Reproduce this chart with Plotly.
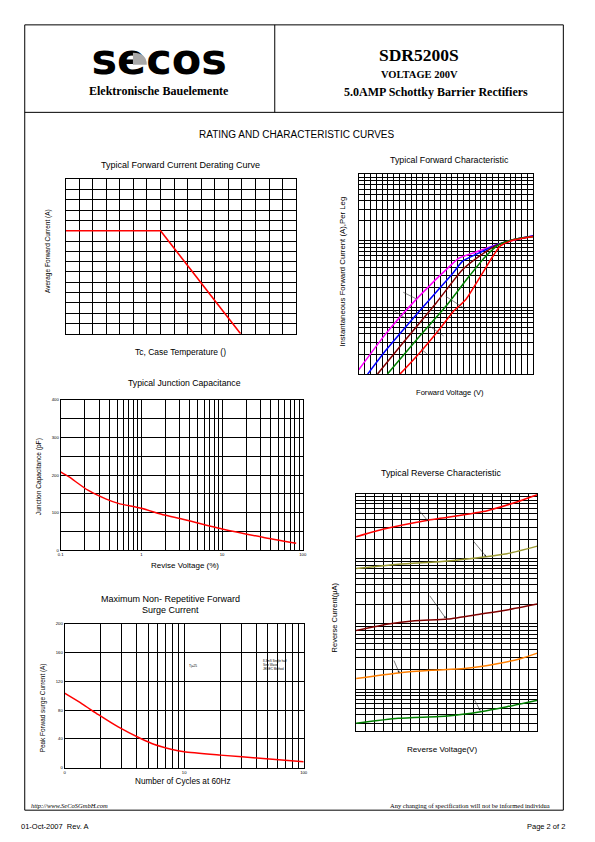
import plotly.graph_objects as go

W, H = 595, 842
def X(px): return px / W
def Y(py): return 1 - py / H

# ---------------- data ----------------
# Typical Forward Current Derating Curve
derate_temp = [0, 70, 129]
derate_current = [5.0, 5.0, 0.0]

# Typical Forward Characteristic (V, A)
fwd_v_magenta = [0.0, 0.24, 0.52, 0.81, 0.86, 0.98, 1.15, 1.32, 1.50]
fwd_i_magenta = [0.116, 0.419, 1.48, 4.64, 5.51, 6.54, 8.42, 10.1, 11.9]
fwd_v_blue = [0.076, 0.24, 0.52, 0.81, 0.89, 1.03, 1.17, 1.32, 1.50]
fwd_i_blue = [0.1, 0.236, 0.881, 3.29, 4.92, 6.54, 8.51, 10.35, 11.9]
fwd_v_brown = [0.161, 0.382, 0.665, 0.891, 1.033, 1.174, 1.316, 1.50]
fwd_i_brown = [0.1, 0.297, 1.17, 3.69, 5.84, 8.42, 10.35, 11.6]
fwd_v_green = [0.246, 0.524, 0.75, 0.948, 1.089, 1.203, 1.344, 1.50]
fwd_i_green = [0.1, 0.373, 1.05, 2.94, 5.84, 8.71, 10.6, 11.6]
fwd_v_red = [0.354, 0.538, 0.693, 0.807, 0.920, 1.019, 1.089, 1.160, 1.217, 1.316, 1.50]
fwd_i_red = [0.1, 0.223, 0.47, 0.851, 1.32, 2.47, 3.91, 6.18, 8.41, 10.1, 11.6]

# Typical Junction Capacitance
cap_v = [0.1, 0.126, 0.218, 0.362, 0.518, 1.0, 1.93, 3.1, 10, 32, 83]
cap_pf = [209, 196, 160, 137, 125, 112, 94, 84, 57, 35, 19]
cap_ytick_text = ["0", "", "100", "", "200", "", "300", "", "400"]

# Maximum Non-Repetitive Forward Surge Current
surge_cycles = [1, 1.40, 1.92, 2.81, 4.33, 5.65, 7.77, 10, 20.1, 45.7, 100]
surge_amps = [103.4, 88.7, 73.6, 56.6, 40.5, 32.2, 25.7, 22.1, 17.5, 12.9, 8.3]
surge_xtick_text = ["0", "10", "100"]

# Typical Reverse Characteristic (V, uA)
rev_v_red = [0, 28.4, 79.3, 101.1, 144.7, 173.8, 200]
rev_i_red = [218, 282, 392, 436, 550, 721, 966]
rev_v_olive = [0, 46.5, 101.1, 141.1, 166.5, 200]
rev_i_olive = [70.8, 82.4, 92.7, 106.7, 119.9, 157]
rev_v_brown = [0, 35.6, 64.7, 101.1, 137.5, 166.5, 200]
rev_i_brown = [7.91, 10.0, 11.2, 11.9, 14.2, 16.4, 20.2]
rev_v_orange = [0, 46.5, 82.9, 119.3, 155.6, 181.1, 200]
rev_i_orange = [1.45, 1.77, 1.94, 2.06, 2.45, 2.92, 3.56]
rev_v_green = [0, 46.5, 101.1, 137.5, 166.5, 200]
rev_i_green = [0.297, 0.355, 0.385, 0.448, 0.535, 0.675]

logo_text = ["secos"]

# ---------------- figure ----------------
SANS = "Liberation Sans, Arial, sans-serif"
SERIF = "Liberation Serif, Times New Roman, serif"
RED = "#FF0000"

fig = go.Figure()

def curve(x, y, color, xa, ya, width=1.5):
    fig.add_trace(go.Scatter(x=x, y=y, mode="lines", xaxis=xa, yaxis=ya,
                             line=dict(color=color, width=width, shape="spline", smoothing=0.6),
                             hoverinfo="skip", showlegend=False))

fig.add_trace(go.Scatter(x=derate_temp, y=derate_current, mode="lines", xaxis="x", yaxis="y",
                         line=dict(color=RED, width=1.6), hoverinfo="skip", showlegend=False))

curve(fwd_v_magenta, fwd_i_magenta, "#FF00FF", "x2", "y2")
curve(fwd_v_blue, fwd_i_blue, "#0000FF", "x2", "y2")
curve(fwd_v_brown, fwd_i_brown, "#800000", "x2", "y2")
curve(fwd_v_green, fwd_i_green, "#008000", "x2", "y2")
curve(fwd_v_red, fwd_i_red, RED, "x2", "y2")

curve(cap_v, cap_pf, RED, "x3", "y3")
curve(surge_cycles, surge_amps, RED, "x4", "y4")

curve(rev_v_red, rev_i_red, RED, "x5", "y5")
curve(rev_v_olive, rev_i_olive, "#999933", "x5", "y5")
curve(rev_v_brown, rev_i_brown, "#800000", "x5", "y5")
curve(rev_v_orange, rev_i_orange, "#FF7F00", "x5", "y5")
curve(rev_v_green, rev_i_green, "#008000", "x5", "y5")

# logo on a hidden full-page (pixel) axis so the grey accent can sit on top of it
fig.add_trace(go.Scatter(x=[158], y=[61], mode="text", text=logo_text, xaxis="x6", yaxis="y6",
                         textposition="middle center", cliponaxis=False,
                         textfont=dict(family="DejaVu Sans", size=43, color="black", weight="bold"),
                         hoverinfo="skip", showlegend=False))

def logticks(lo, hi):
    out = []
    for k in range(lo, hi):
        for m in range(1, 10):
            out.append(m * 10 ** k)
    out.append(10 ** hi)
    return out

base = dict(showline=True, mirror=True, linecolor="black", linewidth=1,
            showgrid=True, gridcolor="black", gridwidth=1, zeroline=False,
            ticks="", fixedrange=True)

cap_xticks = logticks(-1, 2)
cap_xtext = [("0.1" if v == 0.1 else "1" if v == 1 else "10" if v == 10 else "100" if v == 100 else "") for v in cap_xticks]
surge_xticks = logticks(0, 2)
surge_xtext = [{1: surge_xtick_text[0], 10: surge_xtick_text[1], 100: surge_xtick_text[2]}.get(v, "") for v in surge_xticks]
tickfont = dict(family=SANS, size=4.2, color="black")

fig.update_layout(
    width=W, height=H, margin=dict(l=0, r=0, t=0, b=0),
    paper_bgcolor="white", plot_bgcolor="rgba(0,0,0,0)", showlegend=False,
    xaxis=dict(base, domain=[X(63.3), X(296.7)], range=[0, 170], dtick=10, tick0=0,
               showticklabels=False, anchor="y"),
    yaxis=dict(base, domain=[Y(332.7), Y(177.3)], range=[0, 7.5], dtick=0.5, tick0=0,
               showticklabels=False, anchor="x"),
    xaxis2=dict(base, domain=[X(360), X(536.7)], range=[0, 1.5], dtick=0.05, tick0=0,
                showticklabels=False, anchor="y2"),
    yaxis2=dict(base, domain=[Y(373.3), Y(172.3)], type="log", range=[-1, 2],
                tickvals=logticks(-1, 2), showticklabels=False, anchor="x2"),
    xaxis3=dict(base, domain=[X(58.3), X(303.3)], type="log", range=[-1, 2],
                tickvals=cap_xticks, ticktext=cap_xtext, tickfont=tickfont, anchor="y3"),
    yaxis3=dict(base, domain=[Y(550.7), Y(399.3)], range=[0, 400],
                tickvals=[0, 50, 100, 150, 200, 250, 300, 350, 400], ticktext=cap_ytick_text,
                tickfont=tickfont, anchor="x3"),
    xaxis4=dict(base, domain=[X(62.3), X(304.3)], type="log", range=[0, 2],
                tickvals=surge_xticks, ticktext=surge_xtext, tickfont=tickfont, anchor="y4"),
    yaxis4=dict(base, domain=[Y(769.3), Y(624.3)], range=[0, 200], dtick=40, tick0=0,
                tickfont=tickfont, anchor="x4"),
    xaxis5=dict(base, domain=[X(357.3), X(540.7)], range=[0, 200], dtick=10, tick0=0,
                showticklabels=False, anchor="y5"),
    yaxis5=dict(base, domain=[Y(732.3), Y(493.7)], type="log", range=[-0.644, 3],
                tickvals=logticks(-1, 3), showticklabels=False, anchor="x5"),
    xaxis6=dict(domain=[0, 1], range=[0, W], visible=False, fixedrange=True, anchor="y6"),
    yaxis6=dict(domain=[0, 1], range=[H, 0], visible=False, fixedrange=True, anchor="x6"),
)

shapes = []
def pline(x0, y0, x1, y1, w=1, color="black"):
    shapes.append(dict(type="line", xref="paper", yref="paper", x0=X(x0), y0=Y(y0),
                       x1=X(x1), y1=Y(y1), line=dict(color=color, width=w), layer="above"))
def wbox(x0, y0, x1, y1):
    shapes.append(dict(type="rect", xref="paper", yref="paper", x0=X(x0), y0=Y(y0),
                       x1=X(x1), y1=Y(y1), fillcolor="white", line=dict(width=0), layer="between"))

# page frame
pline(22, 22, 567, 22)
pline(22, 22, 22, 812)
pline(567, 22, 567, 812)
pline(22, 110, 567, 110)
pline(275, 22, 275, 110)
pline(22, 812, 567, 812)

# blank label boxes + leader lines, forward chart
for b in [(395, 283, 410, 292), (383, 300.5, 398, 308.5), (468, 306.7, 483, 315),
          (446, 334.5, 462, 342.5), (429, 353, 445, 360)]:
    wbox(*b)
for l in [(405, 291, 419, 298), (395, 309, 410, 319), (468, 308, 448, 295),
          (446, 335, 430, 324), (429, 353, 423, 348)]:
    pline(*l, w=0.6, color="#333333")

# reverse chart boxes
for b in [(405, 502, 420, 508.7), (386.7, 651, 400, 660), (471, 692, 486, 699)]:
    wbox(*b)
# surge chart note box
wbox(259.8, 653.8, 303.8, 677.5)

# logo accent (grey quarter of the "e"), pixel coordinates on hidden axis
shapes.append(dict(type="path", xref="x6", yref="y6",
                   path="M 131.5,62 L 131.5,50 Q 145.5,50 145.5,62 Z",
                   fillcolor="#A8A8A8", line=dict(width=0), layer="above"))
fig.update_layout(shapes=shapes)

ann = []
def txt(s, x, y, size, family=SANS, xanchor="center", angle=0, color="black", weight="normal"):
    ann.append(dict(text=s, x=X(x), y=Y(y), xref="paper", yref="paper", showarrow=False,
                    xanchor=xanchor, yanchor="middle", textangle=angle, borderpad=0,
                    font=dict(family=family, size=size, color=color, weight=weight)))
def arrow(tx, ty, hx, hy):
    ann.append(dict(text="", x=X(hx), y=Y(hy), xref="paper", yref="paper", showarrow=True,
                    ax=tx - hx, ay=ty - hy, arrowhead=2, arrowsize=0.7, arrowwidth=0.6,
                    arrowcolor="#222222"))

# header
txt("<b>Elektronische Bauelemente</b>", 158, 89, 12, family=SERIF)
txt("<b>SDR5200S</b>", 421, 52, 17.5, family=SERIF)
txt("<b>VOLTAGE 200V</b>", 421, 72, 10.5, family=SERIF)
txt("<b>5.0AMP Schottky Barrier Rectifiers</b>", 438, 90, 12, family=SERIF)

txt("RATING AND CHARACTERISTIC CURVES", 297, 132, 10)

# chart 1
txt("Typical Forward Current Derating Curve", 180, 162.5, 9)
txt("Tc, Case Temperature ()", 180, 351.5, 8.5)
txt("Average Forward Current (A)", 45, 249, 6.5, angle=-90)
# chart 2
txt("Typical Forward Characteristic", 451.7, 158.3, 8.8)
txt("Forward Voltage (V)", 452.3, 392.3, 7.6)
txt("Instantaneous Forward Current (A),Per Leg", 343.3, 270, 7.8, angle=-90)
# chart 3
txt("Typical Junction Capacitance", 184, 382.3, 8.7)
txt("Revise Voltage (%)", 184, 565.7, 8)
txt("Junction Capacitance (pF)", 36.7, 476.7, 6.6, angle=-90)
# chart 4
txt("Maximum Non- Repetitive Forward", 169.3, 600, 9)
txt("Surge Current", 169.3, 610.7, 9)
txt("Number of Cycles at 60Hz", 181.7, 783.3, 8.2)
txt("Peak Forwad surge Current (A)", 40, 709, 6.4, angle=-90)
txt("Tj=25", 187.3, 667.3, 3.2, xanchor="left")
txt("8.3mS Single half", 261.7, 661.7, 3, xanchor="left")
txt("Sine Wave", 261.7, 666, 3, xanchor="left")
txt("JEDEC Method", 261.7, 670.3, 3, xanchor="left")
# chart 5
txt("Typical Reverse Characteristic", 443.3, 473.3, 8.9)
txt("Reverse Voltage(V)", 444.7, 751, 8.1)
txt("Reverse Current(μA)", 335, 618, 7.5, angle=-90)

arrow(418, 507, 430, 521)
arrow(475, 540, 489, 557)
arrow(431, 595, 448, 619)
arrow(395, 660, 401, 674)
arrow(476, 699, 483, 712)

# footer
txt("<i>http://www.SeCoSGmbH.com</i>", 27, 807, 6.5, family=SERIF, xanchor="left")
txt("Any changing of specification will not be informed individua", 555, 807, 6.5, family=SERIF, xanchor="right")
txt("01-Oct-2007  Rev. A", 17, 828, 7.5, xanchor="left")
txt("Page 2 of 2", 570, 828, 7.5, xanchor="right")

fig.update_layout(annotations=ann)
fig.write_html("out.html", config={"displayModeBar": False},
               post_script="document.body.style.margin='0px';document.body.style.padding='0px';")
